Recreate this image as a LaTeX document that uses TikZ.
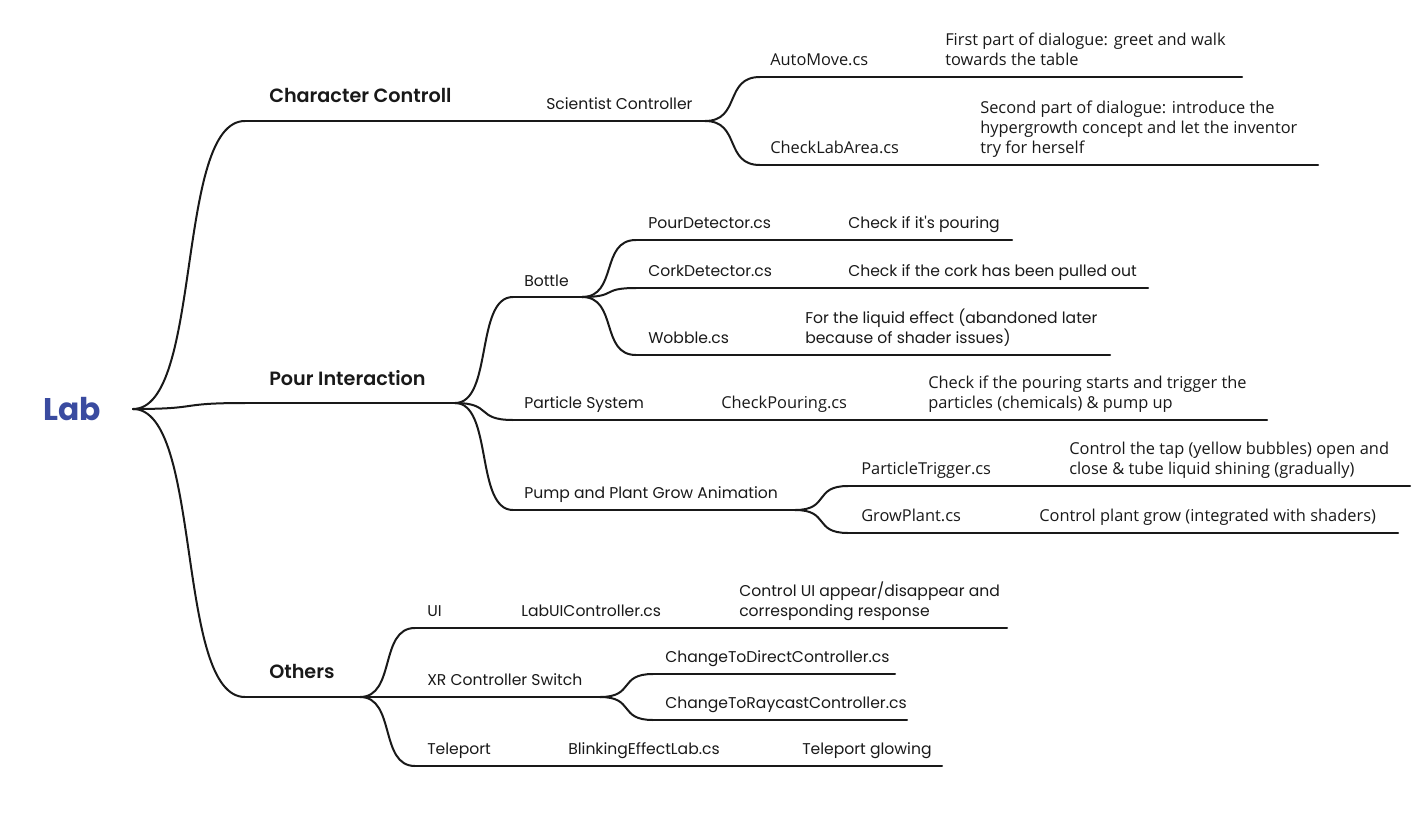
\documentclass[tikz,border=0pt]{standalone}
\usepackage{fontspec}
\setmainfont{Poppins}[BoldFont={Poppins SemiBold}]
\newfontfamily\labfont{Poppins Bold}
\newfontfamily\segoe{Open Sans}
\definecolor{labblue}{RGB}{58,75,160}
\definecolor{ink}{RGB}{25,25,25}
\tikzset{
  branch/.style={line width=1.5pt, draw=ink, line cap=round},
  lbl/.style={anchor=base west, inner sep=0pt, text=ink, font=\fontsize{11.7}{15}\selectfont, align=left},
  slbl/.style={lbl, font=\segoe\fontsize{12.3}{15}\selectfont},
  mainlbl/.style={lbl, font=\fontsize{14.4}{16}\selectfont\bfseries},
}
\begin{document}
\begin{tikzpicture}[x=0.75pt,y=-0.75pt]
\useasboundingbox (0,0) rectangle (1422,832);
% coordinates
\coordinate (R) at (133,409);
\coordinate (CCs) at (245,121); \coordinate (CCe) at (478,121); \coordinate (SCe) at (705,121);
\coordinate (AMs) at (760,77); \coordinate (AMe) at (1242,77);
\coordinate (CLs) at (760,165); \coordinate (CLe) at (1318,165);
\coordinate (PIs) at (245,403); \coordinate (PIe) at (455,403);
\coordinate (Bs) at (513,297); \coordinate (Be) at (582,297);
\coordinate (PDs) at (636,240); \coordinate (PDe) at (1012,240);
\coordinate (CDs) at (636,288); \coordinate (CDe) at (1148,288);
\coordinate (WBs) at (636,355); \coordinate (WBe) at (1110,355);
\coordinate (PSs) at (513,420); \coordinate (PSe) at (1267,420);
\coordinate (PPs) at (513,510); \coordinate (PPe) at (795,510);
\coordinate (PTs) at (848,486); \coordinate (PTe) at (1410,486);
\coordinate (GPs) at (848,533); \coordinate (GPe) at (1398,533);
\coordinate (OTs) at (245,697); \coordinate (OTe) at (360,697);
\coordinate (UIs) at (415,628); \coordinate (UIe) at (1007,628);
\coordinate (XRs) at (415,697); \coordinate (XRe) at (600,697);
\coordinate (DCs) at (653,674); \coordinate (DCe) at (895,674);
\coordinate (RCs) at (653,720); \coordinate (RCe) at (907,720);
\coordinate (TPs) at (415,766); \coordinate (TPe) at (942,766);

% horizontal lines
\foreach \a/\b in {CCs/CCe,CCe/SCe,AMs/AMe,CLs/CLe,PIs/PIe,Bs/Be,PDs/PDe,CDs/CDe,WBs/WBe,PSs/PSe,PPs/PPe,PTs/PTe,GPs/GPe,OTs/OTe,UIs/UIe,XRs/XRe,DCs/DCe,RCs/RCe,TPs/TPe}
  \draw[branch] (\a) -- (\b);
% curved connectors
\draw[branch] (R) .. controls +(70,0) and +(-70,0) .. (CCs);
\draw[branch] (R) .. controls +(70,0) and +(-70,0) .. (PIs);
\draw[branch] (R) .. controls +(70,0) and +(-70,0) .. (OTs);
\draw[branch] (SCe) .. controls +(36,0) and +(-36,0) .. (AMs);
\draw[branch] (SCe) .. controls +(36,0) and +(-36,0) .. (CLs);
\draw[branch] (PIe) .. controls +(38,0) and +(-38,0) .. (Bs);
\draw[branch] (PIe) .. controls +(38,0) and +(-38,0) .. (PSs);
\draw[branch] (PIe) .. controls +(38,0) and +(-38,0) .. (PPs);
\draw[branch] (Be) .. controls +(36,0) and +(-36,0) .. (PDs);
\draw[branch] (Be) .. controls +(36,0) and +(-36,0) .. (CDs);
\draw[branch] (Be) .. controls +(36,0) and +(-36,0) .. (WBs);
\draw[branch] (PPe) .. controls +(35,0) and +(-35,0) .. (PTs);
\draw[branch] (PPe) .. controls +(35,0) and +(-35,0) .. (GPs);
\draw[branch] (OTe) .. controls +(36,0) and +(-36,0) .. (UIs);
\draw[branch] (OTe) .. controls +(36,0) and +(-36,0) .. (XRs);
\draw[branch] (OTe) .. controls +(36,0) and +(-36,0) .. (TPs);
\draw[branch] (XRe) .. controls +(35,0) and +(-35,0) .. (DCs);
\draw[branch] (XRe) .. controls +(35,0) and +(-35,0) .. (RCs);

% labels
\node[lbl, anchor=base west, text=labblue, font=\labfont\fontsize{23.5}{26}\selectfont] (lab) at (43,420) {Lab};
\node[mainlbl] (cc) at (269,102) {Character Controll};
\node[lbl] (sc) at (546,109) {Scientist Controller};
\node[slbl] (am) at (770,65) {AutoMove.cs};
\node[slbl] (amd) at (945,65) {First part of dialogue: greet and walk\\towards the table};
\node[slbl] (cl) at (770,153) {CheckLabArea.cs};
\node[slbl] (cld) at (980,153) {Second part of dialogue: introduce the\\hypergrowth concept and let the inventor\\try for herself};
\node[mainlbl] (pi) at (269,385) {Pour Interaction};
\node[lbl] (bt) at (524,286) {Bottle};
\node[lbl] (pd) at (648,228) {PourDetector.cs};
\node[lbl] (pdd) at (848,228) {Check if it\textquotesingle s pouring};
\node[lbl] (cd) at (648,276) {CorkDetector.cs};
\node[lbl] (cdd) at (848,276) {Check if the cork has been pulled out};
\node[lbl] (wb) at (648,343) {Wobble.cs};
\node[lbl] (wbd) at (805,343) {For the liquid effect (abandoned later\\because of shader issues)};
\node[lbl] (ps) at (524,408) {Particle System};
\node[slbl] (cp) at (721,408) {CheckPouring.cs};
\node[slbl] (cpd) at (928,408) {Check if the pouring starts and trigger the\\particles (chemicals) \& pump up};
\node[lbl] (pp) at (524,498) {Pump and Plant Grow Animation};
\node[slbl] (pt) at (861,474) {ParticleTrigger.cs};
\node[slbl] (ptd) at (1069,474) {Control the tap (yellow bubbles) open and\\close \& tube liquid shining (gradually)};
\node[slbl] (gp) at (861,521) {GrowPlant.cs};
\node[slbl] (gpd) at (1039,521) {Control plant grow (integrated with shaders)};
\node[mainlbl] (ot) at (269,678) {Others};
\node[lbl] (ui) at (427,616) {UI};
\node[lbl] (luc) at (521,616) {LabUIController.cs};
\node[lbl] (lucd) at (739,616) {Control UI appear/disappear and\\corresponding response};
\node[lbl] (xr) at (427,685) {XR Controller Switch};
\node[lbl] (dc) at (665,662) {ChangeToDirectController.cs};
\node[lbl] (rc) at (665,708) {ChangeToRaycastController.cs};
\node[lbl] (tp) at (427,754) {Teleport};
\node[lbl] (bl) at (568,754) {BlinkingEffectLab.cs};
\node[lbl] (tg) at (802,754) {Teleport glowing};
\end{tikzpicture}
\end{document}
